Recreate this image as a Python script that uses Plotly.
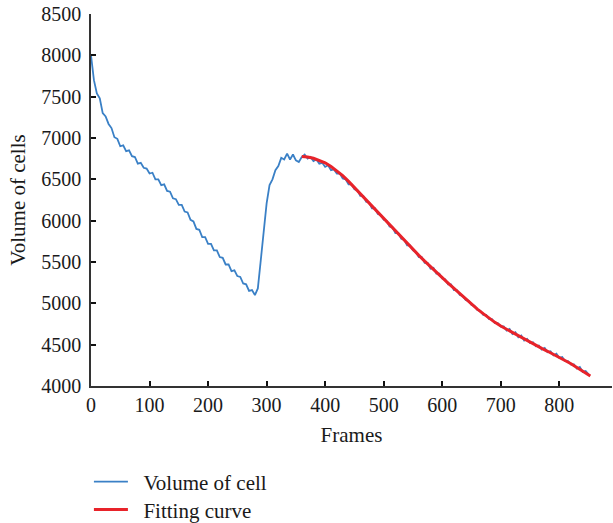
import plotly.graph_objects as go

volume_frames = list(range(0, 851, 5))
volume_values = [
    8000, 7700, 7540, 7480, 7300, 7260, 7170, 7120, 7010, 6990,
    6900, 6910, 6840, 6850, 6780, 6770, 6690, 6700, 6640, 6630,
    6570, 6580, 6500, 6500, 6430, 6440, 6360, 6350, 6270, 6260,
    6190, 6190, 6110, 6100, 6010, 5990, 5900, 5890, 5800, 5800,
    5720, 5720, 5640, 5640, 5560, 5550, 5470, 5470, 5390, 5400,
    5330, 5320, 5240, 5230, 5150, 5160, 5100, 5180, 5520, 5860,
    6210, 6430, 6500, 6610, 6660, 6760, 6740, 6810, 6740, 6800,
    6730, 6710, 6770, 6800, 6750, 6770, 6720, 6740, 6690, 6700,
    6650, 6670, 6610, 6620, 6570, 6570, 6510, 6500, 6440, 6440,
    6380, 6370, 6300, 6300, 6230, 6220, 6150, 6150, 6080, 6070,
    6010, 6000, 5930, 5920, 5850, 5850, 5780, 5770, 5700, 5700,
    5640, 5620, 5560, 5560, 5490, 5490, 5420, 5430, 5360, 5360,
    5300, 5290, 5230, 5230, 5160, 5160, 5100, 5090, 5040, 5030,
    4980, 4970, 4920, 4910, 4860, 4860, 4810, 4810, 4760, 4760,
    4720, 4720, 4670, 4690, 4630, 4650, 4590, 4610, 4550, 4570,
    4520, 4530, 4480, 4490, 4440, 4460, 4410, 4420, 4370, 4390,
    4340, 4350, 4300, 4300, 4260, 4260, 4210, 4230, 4170, 4180,
    4140,
]

# Red fitted curve
fit_frames = [360, 370, 380, 390, 400, 410, 420, 430, 440, 450,
              460, 470, 480, 490, 500, 510, 520, 530, 540, 550,
              560, 570, 580, 590, 600, 610, 620, 630, 640, 650,
              660, 670, 680, 690, 700, 710, 720, 730, 740, 750,
              760, 770, 780, 790, 800, 810, 820, 830, 840, 850, 853]
fit_values = [6775, 6770, 6755, 6730, 6700, 6655, 6605, 6545, 6475, 6400,
              6320, 6245, 6170, 6095, 6020, 5945, 5870, 5795, 5720, 5650,
              5580, 5510, 5440, 5375, 5310, 5245, 5180, 5115, 5050, 4990,
              4930, 4875, 4820, 4770, 4725, 4685, 4645, 4605, 4565, 4525,
              4490, 4455, 4420, 4385, 4350, 4310, 4270, 4225, 4180, 4135, 4122]

x_ticks = [0, 100, 200, 300, 400, 500, 600, 700, 800]
y_ticks = [4000, 4500, 5000, 5500, 6000, 6500, 7000, 7500, 8000, 8500]

FONT = "Liberation Serif"
NB = "\u00a0\u00a0"

fig = go.Figure()
fig.add_trace(go.Scatter(
    x=volume_frames, y=volume_values, mode="lines", name=NB + "Volume of cell",
    line=dict(color="#3a80c6", width=1.8), legend="legend",
))
fig.add_trace(go.Scatter(
    x=fit_frames, y=fit_values, mode="lines", name=NB + "Fitting curve",
    line=dict(color="#e8232a", width=3), legend="legend2",
))

axis_common = dict(
    showgrid=False, zeroline=False, showline=True, linecolor="#333333",
    linewidth=1.5, ticks="inside", ticklen=5, tickwidth=1.5, tickcolor="#111111",
    tickfont=dict(family=FONT, size=20, color="#1a1a1a"), automargin=False,
    ticklabeloverflow="allow",
)

legend_common = dict(
    xanchor="left", yanchor="middle",
    font=dict(family=FONT, size=21, color="#1a1a1a"),
    itemwidth=34, bgcolor="rgba(0,0,0,0)",
)

fig.update_layout(
    width=613, height=523,
    margin=dict(l=91, r=1, t=14, b=137, autoexpand=False),
    paper_bgcolor="white", plot_bgcolor="white",
    font=dict(family=FONT, size=21, color="#1a1a1a"),
    xaxis=dict(range=[0, 890], tickvals=x_ticks,
               title=dict(text="Frames", standoff=13, font=dict(size=21)),
               **axis_common),
    yaxis=dict(range=[4000, 8500], tickvals=y_ticks, ticklabelstandoff=4,
               title=dict(text="Volume of cells", standoff=10, font=dict(size=21)),
               **axis_common),
    legend=dict(x=-0.004, y=-0.258, **legend_common),
    legend2=dict(x=-0.004, y=-0.333, **legend_common),
    showlegend=True,
)

fig.write_html(
    "out.html",
    config={"displayModeBar": False},
    post_script="document.body.style.margin='0';document.body.style.overflow='hidden';",
)
